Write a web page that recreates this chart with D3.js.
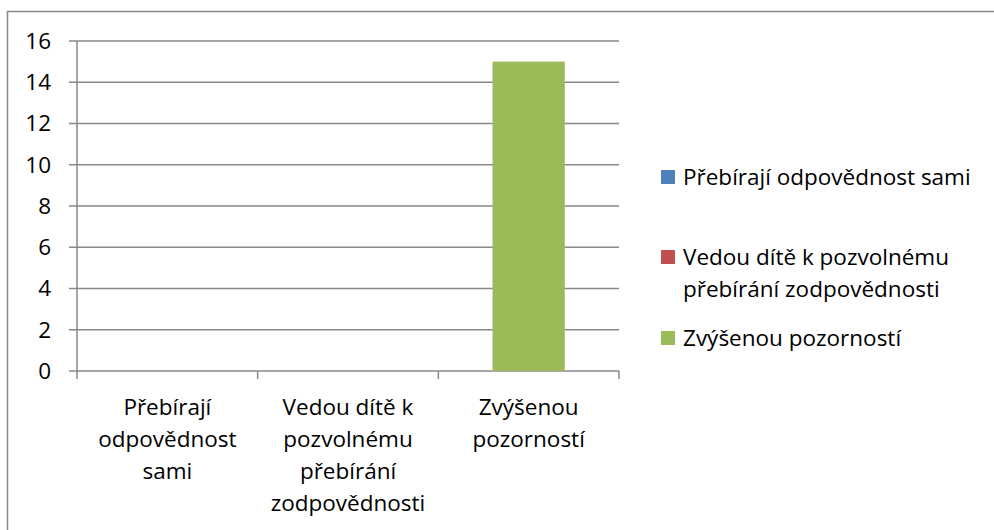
<!DOCTYPE html>
<html>
<head>
<meta charset="utf-8">
<script src="https://cdn.jsdelivr.net/npm/d3@7"></script>
<style>
  body { margin: 0; background: #fff; }
  svg { display: block; font-family: "Open Sans", "Noto Sans", sans-serif; }
  text { fill: #000; }
</style>
</head>
<body>
<svg id="chart" width="994" height="530"></svg>
<script>
// chart values
const categories = ['Přebírají odpovědnost sami', 'Vedou dítě k pozvolnému přebírání zodpovědnosti', 'Zvýšenou pozorností']
const values = [0, 0, 15]
const colors = ['#4F81BD', '#C0504D', '#9BBB59']
const yTicks = [0, 2, 4, 6, 8, 10, 12, 14, 16]

const svg = d3.select('#chart')
const fontSize = 22.5
const gridColor = '#898989'

// outer border of the chart area (runs off right and bottom edge)
svg.append('rect')
    .attr('x', 7.5).attr('y', 11.5)
    .attr('width', 1100).attr('height', 700)
    .attr('fill', 'none')
    .attr('stroke', gridColor)
    .attr('stroke-width', 1.5)

let plot = { left: 77, right: 619, top: 41, bottom: 371 }

let x = d3.scaleBand()
  .domain(categories)
  .range([plot.left, plot.right])
  .padding(0)

let y = d3.scaleLinear()
  .domain([0, 16])
  .range([plot.bottom, plot.top])

// horizontal gridlines with small ticks on the left
svg.append('g')
  .selectAll('line')
  .data(yTicks)
  .join('line')
    .attr('x1', plot.left - 8)
    .attr('x2', plot.right)
    .attr('y1', d => y(d))
    .attr('y2', d => y(d))
    .attr('stroke', gridColor)
    .attr('stroke-width', 1.5)

// y tick labels
svg.append('g')
  .selectAll('text')
  .data(yTicks)
  .join('text')
    .attr('x', 51)
    .attr('y', d => y(d))
    .attr('dy', '0.35em')
    .attr('text-anchor', 'end')
    .style('font-size', fontSize + 'px')
    .text(d => d)

// bars (single series, coloured by point, 150% gap width)
let barW = x.bandwidth() / 2.5
svg.append('g')
  .selectAll('rect')
  .data(categories)
  .join('rect')
    .attr('x', d => x(d) + (x.bandwidth() - barW) / 2)
    .attr('width', barW)
    .attr('y', (d, i) => y(values[i]))
    .attr('height', (d, i) => y(0) - y(values[i]))
    .attr('fill', (d, i) => colors[i])

// vertical axis line
svg.append('line')
    .attr('x1', plot.left).attr('x2', plot.left)
    .attr('y1', plot.top).attr('y2', plot.bottom + 8)
    .attr('stroke', gridColor)
    .attr('stroke-width', 1.5)

// category tick marks below the axis
svg.append('g')
  .selectAll('line')
  .data(categories)
  .join('line')
    .attr('x1', d => x(d) + x.bandwidth())
    .attr('x2', d => x(d) + x.bandwidth())
    .attr('y1', plot.bottom)
    .attr('y2', plot.bottom + 8)
    .attr('stroke', gridColor)
    .attr('stroke-width', 1.5)

// word-wrap helper: splits text into lines no wider than maxWidth
function wrapLines (str, maxWidth, size) {
  let probe = svg.append('text').style('font-size', size + 'px')
  let words = str.split(' ')
  let lines = []
  let line = ''
  words.forEach(w => {
    let test = line ? line + ' ' + w : w
    probe.text(test)
    if (line && probe.node().getComputedTextLength() > maxWidth) {
      lines.push(line)
      line = w
    } else {
      line = test
    }
  })
  if (line) lines.push(line)
  probe.remove()
  return lines
}

const lineH = 32

// category labels
categories.forEach(c => {
  let lines = wrapLines(c, x.bandwidth() - 14, fontSize)
  let t = svg.append('text')
      .attr('text-anchor', 'middle')
      .style('font-size', fontSize + 'px')
  lines.forEach((l, i) => {
    t.append('tspan')
        .attr('x', x(c) + x.bandwidth() / 2)
        .attr('y', 415 + i * lineH)
        .text(l)
  })
})

// legend
let legendY = [177, 257, 338]
categories.forEach((c, i) => {
  let lines = wrapLines(c, 305, fontSize)
  svg.append('rect')
      .attr('x', 661).attr('y', legendY[i] - 7)
      .attr('width', 14).attr('height', 14)
      .attr('fill', colors[i])
  let t = svg.append('text')
      .style('font-size', fontSize + 'px')
  lines.forEach((l, j) => {
    t.append('tspan')
        .attr('x', 683)
        .attr('y', legendY[i] + j * lineH)
        .attr('dy', '0.35em')
        .text(l)
  })
})
</script>
</body>
</html>
